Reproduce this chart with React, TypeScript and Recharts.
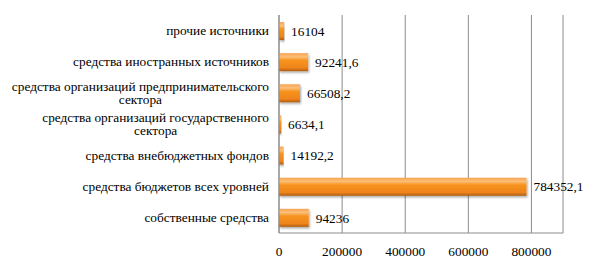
import React from 'react';
import { BarChart, Bar, XAxis, YAxis, CartesianGrid, LabelList } from 'recharts';

const categories = [
  'прочие источники',
  'средства иностранных источников',
  'средства организаций предпринимательского сектора',
  'средства организаций государственного сектора',
  'средства внебюджетных фондов',
  'средства бюджетов всех уровней',
  'собственные средства',
];
const values = [16104, 92241.6, 66508.2, 6634.1, 14192.2, 784352.1, 94236];
const xTicks = [0, 200000, 400000, 600000, 800000];

const data = categories.map((name, i) => ({ name, value: values[i] }));

const FONT = "'Liberation Serif', 'Times New Roman', serif";
const LABEL_SIZE = 13.33;

let ctx: CanvasRenderingContext2D | null = null;
function measure(text: string, size: number): number {
  if (!ctx) {
    const c = document.createElement('canvas');
    ctx = c.getContext('2d');
  }
  if (!ctx) return text.length * size * 0.5;
  ctx.font = `${size}px ${FONT}`;
  return ctx.measureText(text).width;
}

function wrap(text: string, maxW: number, size: number): string[] {
  const words = text.split(' ');
  const lines: string[] = [];
  let cur = '';
  for (const w of words) {
    const t = cur ? cur + ' ' + w : w;
    if (measure(t, size) > maxW && cur) {
      lines.push(cur);
      cur = w;
    } else cur = t;
  }
  if (cur) lines.push(cur);
  return lines;
}

const CategoryTick = (props: any) => {
  const { x, y, payload } = props;
  const lines = wrap(payload.value, 266, LABEL_SIZE);
  const widths = lines.map((l) => measure(l, LABEL_SIZE));
  const maxW = Math.max(...widths);
  const lh = 13.5;
  const right = x - 2;
  const cx = right - maxW / 2;
  const startY = y - ((lines.length - 1) * lh) / 2;
  return (
    <g>
      {lines.map((l, i) => (
        <text
          key={i}
          x={lines.length > 1 ? cx : right}
          y={startY + i * lh}
          dy="0.35em"
          textAnchor={lines.length > 1 ? 'middle' : 'end'}
          fontFamily={FONT}
          fontSize={LABEL_SIZE}
          fill="#000"
        >
          {l}
        </text>
      ))}
    </g>
  );
};

const fmt = (v: any) => String(v).replace('.', ',');

export default function App() {
  return (
    <div style={{ position: 'absolute', left: 0, top: 0, width: 598, height: 266, background: '#fff' }}>
      <BarChart
        width={598}
        height={266}
        data={data}
        layout="vertical"
        margin={{ top: 15, right: 35, bottom: 8, left: 0 }}
        barSize={18}
      >
        <defs>
          <linearGradient id="barGrad" x1="0" y1="0" x2="0" y2="1">
            <stop offset="0%" stopColor="#f8a24e" />
            <stop offset="20%" stopColor="#fcc07a" />
            <stop offset="40%" stopColor="#f7931f" />
            <stop offset="82%" stopColor="#ee841b" />
            <stop offset="100%" stopColor="#b05c12" />
          </linearGradient>
          <filter id="shadow" x="-5%" y="-20%" width="115%" height="160%">
            <feDropShadow dx="1" dy="1.5" stdDeviation="1" floodColor="#000" floodOpacity="0.35" />
          </filter>
        </defs>
        <CartesianGrid horizontal={false} stroke="#8c8c8c" strokeWidth={1} />
        <XAxis
          type="number"
          domain={[0, 900000]}
          ticks={xTicks}
          interval={0}
          axisLine={{ stroke: '#8c8c8c' }}
          tickLine={false}
          tick={{ fontFamily: FONT, fontSize: 13.33, fill: '#000' }}
          height={25}
          tickMargin={8}
        />
        <YAxis
          type="category"
          dataKey="name"
          width={279}
          axisLine={{ stroke: '#8c8c8c' }}
          tickLine={false}
          tick={<CategoryTick />}
          interval={0}
        />
        <Bar dataKey="value" fill="url(#barGrad)" isAnimationActive={false} filter="url(#shadow)">
          <LabelList
            dataKey="value"
            position="right"
            offset={7}
            formatter={fmt}
            style={{ fontFamily: FONT, fontSize: LABEL_SIZE, fill: '#000' }}
          />
        </Bar>
      </BarChart>
    </div>
  );
}
